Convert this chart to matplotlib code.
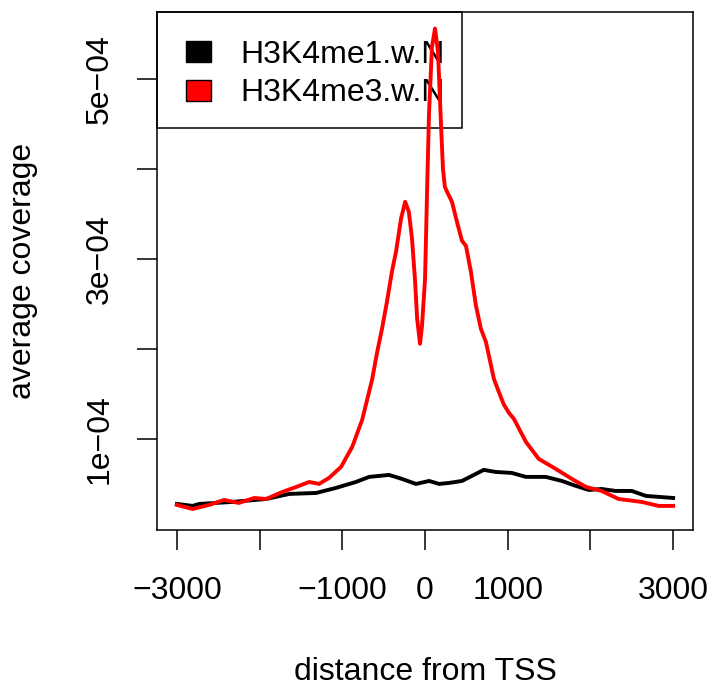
import numpy as np
import matplotlib.pyplot as plt
from matplotlib.patches import Rectangle

plt.rcParams['font.family'] = ['Liberation Sans', 'DejaVu Sans']

# distance from TSS (bp) and average coverage (x 1e-4)
red_x = [-3000, -2810, -2610, -2430, -2250, -2065, -1920, -1725, -1555, -1400,
         -1280, -1160, -1015, -880, -760, -640, -580, -520, -460, -400, -350,
         -290, -240, -195, -157, -121, -95, -60, -36, 0, 10, 25, 48, 84, 121,
         157, 193, 217, 240, 266, 326, 386, 447, 495, 555, 616, 676, 736, 773,
         833, 893, 954, 1014, 1075, 1220, 1375, 1580, 1775, 1945, 2135, 2340,
         2620, 2825, 3000]
red_y = [0.267, 0.222, 0.267, 0.322, 0.289, 0.344, 0.333, 0.411, 0.467, 0.522,
         0.500, 0.567, 0.689, 0.911, 1.211, 1.656, 1.956, 2.222, 2.522, 2.856, 3.080,
         3.444, 3.633, 3.520, 3.222, 2.767, 2.333, 2.056, 2.256, 2.767, 3.144, 3.750, 4.600, 5.350, 5.556,
         5.300, 4.500, 4.000, 3.800, 3.744, 3.633, 3.411, 3.200, 3.144, 2.856, 2.478, 2.222, 2.078, 1.922,
         1.667, 1.520, 1.380, 1.290, 1.222, 0.967, 0.778, 0.667, 0.556, 0.467, 0.422, 0.333,
         0.300, 0.256, 0.256]

blk_x = [-3000, -2810, -2730, -2330, -1920, -1640, -1315, -1075, -835, -675,
         -435, -280, -110, 50, 170, 290, 447, 710, 855, 1050, 1220, 1460,
         1655, 1825, 1980, 2135, 2305, 2500, 2670, 3000]
blk_y = [0.278, 0.256, 0.278, 0.300, 0.333, 0.389, 0.400, 0.456, 0.522, 0.578,
         0.600, 0.556, 0.500, 0.533, 0.500, 0.511, 0.533, 0.656, 0.633, 0.622, 0.578, 0.578,
         0.533, 0.478, 0.433, 0.444, 0.422, 0.422, 0.367, 0.344]

labels = ['H3K4me1.w.N', 'H3K4me3.w.N']
colors = ['black', 'red']

W, H = 716, 686
fig = plt.figure(figsize=(W / 100, H / 100), dpi=100)
ax = fig.add_axes([157 / W, 1 - 529.5 / H, 536 / W, 517.5 / H])


def px(x, y):
    # figure pixel (from top-left) -> figure fraction
    return x / W, 1 - y / H


ax.plot(blk_x, np.array(blk_y) * 1e-4, color='black', lw=2.8, zorder=3)
ax.plot(red_x, np.array(red_y) * 1e-4, color='red', lw=2.8, zorder=3)

ax.set_xlim(-3240, 3240)
ax.set_ylim(-0.006e-4, 5.74e-4)

fs = 23
ax.set_xticks([-3000, -2000, -1000, 0, 1000, 2000, 3000])
ax.set_xticklabels(['\u22123000', '', '\u22121000', '0', '1000', '', '3000'])
ax.set_yticks([1e-4, 2e-4, 3e-4, 4e-4, 5e-4])
ax.set_yticklabels(['1e\u221204', '', '3e\u221204', '', '5e\u221204'],
                   rotation=90, va='center')
ax.tick_params(direction='out', length=14.4, width=1.1, labelsize=fs)
ax.tick_params(axis='x', pad=19)
ax.tick_params(axis='y', pad=16)
for s in ax.spines.values():
    s.set_linewidth(1.1)

ax.set_xlabel('distance from TSS', fontsize=fs, va='baseline')
ax.xaxis.set_label_coords(*px(425, 680), transform=fig.transFigure)
ax.set_ylabel('average coverage', fontsize=fs, va='baseline', ha='center',
              rotation_mode='anchor')
ax.yaxis.set_label_coords(*px(31, 271), transform=fig.transFigure)

# legend box, R style (lines are drawn over it)
x0, y0 = px(157, 128)
x1, y1 = px(462, 12)
ax.add_patch(Rectangle((x0, y0), x1 - x0, y1 - y0, transform=fig.transFigure,
                       facecolor='white', edgecolor='black', lw=1.1, zorder=1,
                       clip_on=False))
for i, (lab, c) in enumerate(zip(labels, colors)):
    top = 41 + 39 * i
    sx, sy = px(186, top + 21)
    ex, ey = px(211, top)
    ax.add_patch(Rectangle((sx, sy), ex - sx, ey - sy, transform=fig.transFigure,
                           facecolor=c, edgecolor='black', lw=1, zorder=2,
                           clip_on=False))
    tx, ty = px(240, 63 + 38 * i)
    ax.text(tx, ty, lab, fontsize=fs, va='baseline', ha='left', zorder=2,
            transform=fig.transFigure)

fig.savefig('out.png', dpi=100)
